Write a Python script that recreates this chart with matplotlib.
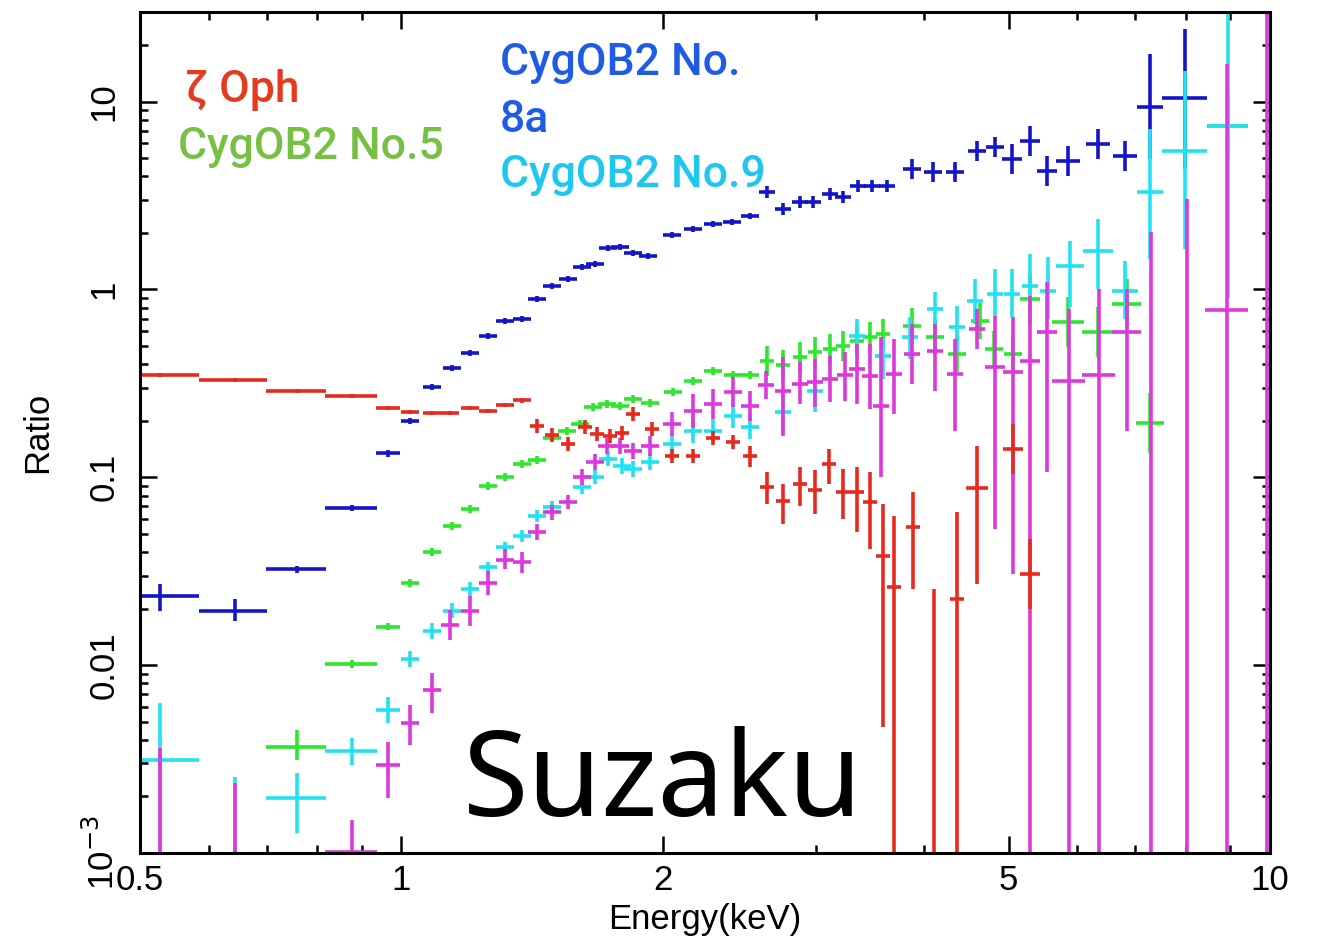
import matplotlib
matplotlib.use("Agg")
import matplotlib.pyplot as plt
import matplotlib.ticker as mticker

# Suzaku ratio spectra: energy (keV), half bin width, ratio, lower / upper bound

# CygOB2 No.8a (blue)
blue_e = [0.527, 0.643, 0.758, 0.877, 0.965, 1.023, 1.084, 1.143, 1.200, 1.258, 1.316, 1.377, 1.432, 1.491,
          1.555, 1.614, 1.671, 1.729, 1.785, 1.848, 1.922, 2.049, 2.166, 2.284, 2.402, 2.519, 2.635, 2.750,
          2.876, 2.977, 3.115, 3.225, 3.356, 3.482, 3.624, 3.872, 4.094, 4.340, 4.600, 4.825, 5.048, 5.295,
          5.539, 5.856, 6.342, 6.812, 7.278, 7.986]
blue_de = [0.057, 0.058, 0.060, 0.060, 0.031, 0.025, 0.026, 0.028, 0.029, 0.030, 0.032, 0.033, 0.034, 0.036,
           0.037, 0.039, 0.040, 0.042, 0.043, 0.044, 0.046, 0.049, 0.052, 0.055, 0.058, 0.061, 0.057, 0.059,
           0.062, 0.064, 0.067, 0.069, 0.072, 0.075, 0.078, 0.093, 0.099, 0.105, 0.111, 0.116, 0.136, 0.143,
           0.149, 0.19, 0.205, 0.22, 0.255, 0.48]
blue_r = [0.0232, 0.0195, 0.0323, 0.0684, 0.134, 0.199, 0.302, 0.381, 0.458, 0.565, 0.679, 0.697, 0.890, 1.044,
          1.138, 1.318, 1.368, 1.665, 1.685, 1.565, 1.509, 1.953, 2.102, 2.235, 2.291, 2.466, 3.311, 2.688,
          2.929, 2.929, 3.230, 3.113, 3.565, 3.565, 3.565, 4.392, 4.233, 4.233, 5.478, 5.754, 4.966, 6.194,
          4.285, 4.846, 5.970, 5.152, 9.404, 10.5]
blue_lo = [0.0193, 0.0171, 0.0308, 0.0659, 0.129, 0.192, 0.291, 0.367, 0.441, 0.545, 0.654, 0.672, 0.858, 1.006,
           1.097, 1.270, 1.319, 1.605, 1.624, 1.508, 1.454, 1.882, 2.026, 2.154, 2.208, 2.377, 3.08, 2.50,
           2.72, 2.72, 3.00, 2.89, 3.31, 3.31, 3.31, 3.88, 3.74, 3.74, 4.84, 5.09, 4.13, 5.15,
           3.56, 4.03, 4.97, 4.29, 4.97, 4.4]
blue_hi = [0.0269, 0.0224, 0.0339, 0.0710, 0.139, 0.206, 0.313, 0.395, 0.475, 0.586, 0.704, 0.723, 0.923, 1.083,
           1.181, 1.367, 1.419, 1.727, 1.748, 1.624, 1.566, 2.026, 2.181, 2.319, 2.377, 2.558, 3.56, 2.89,
           3.15, 3.15, 3.48, 3.35, 3.84, 3.84, 3.84, 4.97, 4.79, 4.79, 6.20, 6.51, 5.97, 7.45,
           5.15, 5.83, 7.18, 6.19, 18.0, 24.5]

# zeta Oph (red)
red_e = [0.527, 0.643, 0.758, 0.877, 0.965, 1.023, 1.084, 1.137, 1.200, 1.258, 1.316, 1.377, 1.432, 1.491,
         1.555, 1.627, 1.679, 1.738, 1.794, 1.848, 1.943, 2.049, 2.166, 2.284, 2.408, 2.519, 2.635, 2.750,
         2.876, 2.993, 3.106, 3.225, 3.346, 3.464, 3.584, 3.691, 3.882, 4.104, 4.362, 4.598, 5.058, 5.292]
red_de = [0.057, 0.058, 0.060, 0.060, 0.031, 0.025, 0.026, 0.027, 0.029, 0.030, 0.032, 0.033, 0.027, 0.028,
          0.029, 0.030, 0.031, 0.033, 0.034, 0.035, 0.036, 0.038, 0.041, 0.043, 0.045, 0.047, 0.049, 0.051,
          0.054, 0.056, 0.058, 0.060, 0.063, 0.065, 0.067, 0.069, 0.073, 0.077, 0.082, 0.136, 0.136, 0.142]
red_r = [0.350, 0.329, 0.2875, 0.270, 0.233, 0.222, 0.2195, 0.2195, 0.2333, 0.2249, 0.242, 0.2574, 0.187, 0.1675,
         0.150, 0.1848, 0.1696, 0.1654, 0.1717, 0.2168, 0.1803, 0.1294, 0.1294, 0.1614, 0.1537, 0.1294, 0.0885,
         0.0745, 0.0918, 0.0852, 0.1173, 0.0832, 0.0832, 0.0736, 0.0379, 0.0262, 0.0541, 0.0005, 0.0224, 0.0874,
         0.141, 0.0304]
red_lo = [0.340, 0.320, 0.280, 0.263, 0.227, 0.216, 0.214, 0.214, 0.227, 0.219, 0.236, 0.250, 0.172, 0.154,
          0.138, 0.170, 0.156, 0.152, 0.158, 0.199, 0.165, 0.119, 0.119, 0.148, 0.141, 0.114, 0.0718,
          0.0561, 0.070, 0.0635, 0.0918, 0.0597, 0.0509, 0.0413, 0.0047, 0.0001, 0.0253, 0.0001, 0.0001, 0.0269,
          0.1038, 0.0198]
red_hi = [0.360, 0.338, 0.295, 0.277, 0.239, 0.228, 0.225, 0.225, 0.240, 0.231, 0.249, 0.264, 0.204, 0.183,
          0.164, 0.201, 0.185, 0.180, 0.187, 0.236, 0.197, 0.141, 0.141, 0.176, 0.168, 0.146, 0.1063,
          0.0918, 0.1131, 0.109, 0.141, 0.1104, 0.1131, 0.1063, 0.0718, 0.0619, 0.0832, 0.0253, 0.065, 0.1463,
          0.1917, 0.0467]

# CygOB2 No.5 (green)
green_e = [0.758, 0.877, 0.965, 1.023, 1.084, 1.143, 1.200, 1.258, 1.316, 1.377, 1.432, 1.491, 1.551, 1.606,
           1.662, 1.724, 1.785, 1.848, 1.933, 2.054, 2.166, 2.284, 2.408, 2.519, 2.635, 2.750, 2.876, 2.993,
           3.113, 3.225, 3.346, 3.464, 3.584, 3.872, 4.114, 4.362, 4.634, 4.811, 5.058, 5.292, 5.856, 6.342,
           6.845, 7.278, 8.945]
green_de = [0.060, 0.060, 0.031, 0.025, 0.026, 0.028, 0.029, 0.030, 0.032, 0.033, 0.034, 0.036, 0.037, 0.039,
            0.040, 0.042, 0.043, 0.044, 0.047, 0.049, 0.052, 0.055, 0.058, 0.061, 0.049, 0.051, 0.054, 0.056,
            0.058, 0.060, 0.063, 0.065, 0.067, 0.093, 0.099, 0.105, 0.112, 0.116, 0.122, 0.142, 0.25, 0.27,
            0.26, 0.275, 0.49]
green_r = [0.00367, 0.0102, 0.01604, 0.0275, 0.0398, 0.0548, 0.0675, 0.0895, 0.100, 0.1173, 0.1232, 0.1614,
           0.1759, 0.1917, 0.2362, 0.245, 0.2391, 0.2606, 0.248, 0.284, 0.325, 0.3675, 0.350, 0.350, 0.4157,
           0.3958, 0.4365, 0.464, 0.4817, 0.4995, 0.5312, 0.558, 0.579, 0.6388, 0.558, 0.4529, 0.679, 0.4817,
           0.4529, 0.890, 0.671, 0.5934, 0.837, 0.194, 7.45]
green_lo = [0.00313, 0.0097, 0.0153, 0.0262, 0.0379, 0.0522, 0.0643, 0.0852, 0.0952, 0.1117, 0.1173, 0.1537,
            0.1675, 0.1826, 0.225, 0.233, 0.228, 0.248, 0.236, 0.270, 0.310, 0.350, 0.333, 0.333, 0.346,
            0.329, 0.363, 0.386, 0.401, 0.416, 0.442, 0.464, 0.482, 0.512, 0.447, 0.363, 0.544, 0.386,
            0.363, 0.655, 0.494, 0.437, 0.616, 0.134, 5.0]
green_hi = [0.00453, 0.0107, 0.0168, 0.0289, 0.0418, 0.0575, 0.0709, 0.094, 0.105, 0.1232, 0.1294, 0.1695,
            0.1847, 0.2013, 0.248, 0.257, 0.251, 0.274, 0.260, 0.298, 0.341, 0.386, 0.368, 0.368, 0.500,
            0.476, 0.525, 0.558, 0.579, 0.600, 0.638, 0.671, 0.696, 0.797, 0.696, 0.565, 0.847, 0.601,
            0.565, 1.21, 0.912, 0.806, 1.14, 0.281, 11.1]

# CygOB2 No.9 (cyan)
cyan_e = [0.527, 0.643, 0.758, 0.877, 0.965, 1.023, 1.084, 1.143, 1.200, 1.258, 1.316, 1.377, 1.432, 1.491,
          1.614, 1.671, 1.729, 1.794, 1.848, 1.933, 2.049, 2.166, 2.284, 2.408, 2.519, 2.750, 2.993, 3.346,
          3.584, 3.850, 4.114, 4.362, 4.574, 4.825, 5.048, 5.292, 5.550, 5.885, 6.342, 6.812, 7.278, 7.986, 8.945]
cyan_de = [0.057, 0.058, 0.060, 0.060, 0.031, 0.025, 0.026, 0.028, 0.029, 0.030, 0.032, 0.033, 0.034, 0.036,
           0.039, 0.040, 0.042, 0.043, 0.044, 0.047, 0.049, 0.052, 0.055, 0.058, 0.061, 0.059, 0.064, 0.072,
           0.077, 0.083, 0.088, 0.094, 0.098, 0.104, 0.109, 0.114, 0.119, 0.22, 0.25, 0.24, 0.255, 0.48, 0.47]
cyan_r = [0.00313, 0.0005, 0.001965, 0.0035, 0.00579, 0.01083, 0.01528, 0.01953, 0.0253, 0.0331, 0.0423, 0.0484,
          0.0619, 0.0692, 0.0885, 0.100, 0.1247, 0.1145, 0.1104, 0.1202, 0.150, 0.1759, 0.1759, 0.2115, 0.1848,
          0.222, 0.2875, 0.565, 0.4417, 0.558, 0.787, 0.631, 0.8684, 0.946, 0.946, 1.044, 0.9817, 1.335, 1.604,
          0.9817, 3.311, 5.478, 7.45]
cyan_lo = [0.0001, 0.0001, 0.00128, 0.00295, 0.00493, 0.00982, 0.01385, 0.0179, 0.0232, 0.0307, 0.0393, 0.0450,
           0.0575, 0.0643, 0.0812, 0.0917, 0.1144, 0.1038, 0.1001, 0.109, 0.1326, 0.1518, 0.1518, 0.1825, 0.1595,
           0.1696, 0.222, 0.4529, 0.3333, 0.4259, 0.579, 0.47, 0.6546, 0.7225, 0.7135, 0.74, 0.6964, 0.8065,
           1.006, 0.6964, 1.454, 1.644, 0.9]
cyan_hi = [0.00631, 0.00254, 0.00267, 0.0041, 0.00679, 0.01195, 0.01685, 0.0213, 0.0276, 0.0356, 0.0455, 0.0521,
           0.0666, 0.0745, 0.0965, 0.109, 0.136, 0.1263, 0.1218, 0.1326, 0.1697, 0.2039, 0.2039, 0.2451, 0.2142,
           0.284, 0.3542, 0.6964, 0.5445, 0.7135, 0.97, 0.8166, 1.138, 1.286, 1.286, 1.546, 1.491, 1.814,
           2.377, 1.419, 7.178, 14.63, 40]

# fifth source (magenta)
mag_e = [0.527, 0.643, 0.877, 0.965, 1.023, 1.084, 1.137, 1.200, 1.258, 1.316, 1.377, 1.432, 1.491, 1.555,
         1.614, 1.671, 1.724, 1.785, 1.848, 1.933, 2.049, 2.166, 2.284, 2.408, 2.519, 2.629, 2.750, 2.876,
         2.993, 3.115, 3.242, 3.346, 3.464, 3.565, 3.691, 3.872, 4.114, 4.340, 4.600, 4.825, 5.058, 5.292,
         5.539, 5.869, 6.357, 6.845, 7.300, 8.025, 8.925, 9.93]
mag_de = [0.057, 0.058, 0.060, 0.031, 0.025, 0.026, 0.027, 0.029, 0.030, 0.032, 0.033, 0.034, 0.036, 0.037,
          0.039, 0.040, 0.042, 0.043, 0.044, 0.047, 0.049, 0.052, 0.055, 0.058, 0.061, 0.057, 0.059, 0.062,
          0.064, 0.067, 0.069, 0.072, 0.075, 0.077, 0.079, 0.083, 0.088, 0.093, 0.099, 0.13, 0.136, 0.142,
          0.149, 0.255, 0.275, 0.26, 0.30, 0.48, 0.51, 0.15]
mag_r = [0.0005, 0.0005, 0.00101, 0.00295, 0.00493, 0.0074, 0.01644, 0.0193, 0.0275, 0.0365, 0.0352, 0.0509,
         0.065, 0.0736, 0.100, 0.1202, 0.1463, 0.1463, 0.1376, 0.1463, 0.1917, 0.2249, 0.245, 0.284, 0.2391,
         0.3096, 0.2875, 0.3133, 0.321, 0.3333, 0.350, 0.3767, 0.3456, 0.2391, 0.3542, 0.4529, 0.470, 0.3542,
         0.6155, 0.386, 0.3631, 0.4157, 0.5934, 0.325, 0.350, 0.5934, 0.0005, 0.0005, 0.7775, 0.0005]
mag_lo = [0.0001, 0.0001, 0.0001, 0.001965, 0.00377, 0.00558, 0.01368, 0.0161, 0.0237, 0.0323, 0.0311, 0.0461,
          0.0596, 0.0675, 0.0907, 0.109, 0.1326, 0.1326, 0.1248, 0.1294, 0.1654, 0.183, 0.204, 0.236, 0.199,
          0.2606, 0.1654, 0.245, 0.2362, 0.2512, 0.2542, 0.245, 0.2305, 0.100, 0.2168, 0.3133, 0.2875, 0.1759,
          0.48, 0.0528, 0.0304, 0.0001, 0.1063, 0.0001, 0.0001, 0.1759, 0.0001, 0.0001, 0.0001, 0.0001]
mag_hi = [0.00363, 0.00236, 0.0015, 0.00391, 0.00616, 0.00912, 0.01976, 0.0232, 0.0319, 0.0413, 0.0398, 0.0561,
          0.0709, 0.0802, 0.1103, 0.1326, 0.1614, 0.1614, 0.1518, 0.1655, 0.2222, 0.276, 0.294, 0.341, 0.287,
          0.3675, 0.4365, 0.4105, 0.4259, 0.4417, 0.464, 0.512, 0.512, 0.558, 0.5445, 0.6546, 0.6546, 0.5445,
          0.79, 0.7225, 0.7135, 0.923, 1.096, 0.787, 1.006, 1.006, 2.026, 3.039, 15.95, 50]

x_ticks = [0.5, 1, 2, 5, 10]
x_labels = ["0.5", "1", "2", "5", "10"]
y_ticks = [1e-3, 1e-2, 1e-1, 1, 10]
y_labels = ["10$^{-3}$", "0.01", "0.1", "1", "10"]

series = [
    (green_e, green_de, green_r, green_lo, green_hi, "#2ee62e"),
    (blue_e, blue_de, blue_r, blue_lo, blue_hi, "#1414c8"),
    (cyan_e, cyan_de, cyan_r, cyan_lo, cyan_hi, "#22e2f2"),
    (mag_e, mag_de, mag_r, mag_lo, mag_hi, "#dc38dc"),
    (red_e, red_de, red_r, red_lo, red_hi, "#e62a1e"),
]

fig = plt.figure(figsize=(13.17, 9.47), dpi=100, facecolor="white")
ax = fig.add_axes([0.1063, 0.0993, 0.858, 0.888])

for e, de, r, lo, hi, col in series:
    yerr = [[v - l for v, l in zip(r, lo)], [h - v for v, h in zip(r, hi)]]
    ax.errorbar(e, r, xerr=de, yerr=yerr, fmt="none", ecolor=col, elinewidth=2.6, capsize=0)

ax.set_xscale("log")
ax.set_yscale("log")
ax.set_xlim(0.5, 10)
ax.set_ylim(1e-3, 30)

ax.xaxis.set_major_locator(mticker.FixedLocator(x_ticks))
ax.xaxis.set_major_formatter(mticker.FixedFormatter(x_labels))
ax.xaxis.set_minor_locator(mticker.LogLocator(base=10, subs=(2, 3, 4, 5, 6, 7, 8, 9), numticks=20))
ax.xaxis.set_minor_formatter(mticker.NullFormatter())
ax.yaxis.set_major_locator(mticker.FixedLocator(y_ticks))
ax.yaxis.set_major_formatter(mticker.FixedFormatter(y_labels))
ax.yaxis.set_minor_locator(mticker.LogLocator(base=10, subs=(2, 3, 4, 5, 6, 7, 8, 9), numticks=20))
ax.yaxis.set_minor_formatter(mticker.NullFormatter())

tick_font = "Liberation Sans"
ax.tick_params(which="both", direction="in", top=True, right=True, width=1.8, color="black")
ax.tick_params(which="major", length=12)
ax.tick_params(which="minor", length=6)
ax.tick_params(axis="x", which="major", pad=8, labelsize=25)
ax.tick_params(axis="y", which="major", pad=14, labelsize=25, labelrotation=90)
for lbl in ax.get_xticklabels() + ax.get_yticklabels():
    lbl.set_fontfamily(tick_font)
for lbl in ax.get_yticklabels():
    lbl.set_verticalalignment("center")
for sp in ax.spines.values():
    sp.set_linewidth(2.2)

ax.set_xlabel("Energy(keV)", fontsize=25, family=tick_font, labelpad=4)
ax.set_ylabel("Ratio", fontsize=25, family=tick_font, labelpad=22)

# source names
lab_font = ["Roboto", "DejaVu Sans"]
lab_kw = dict(fontsize=32, family=lab_font, weight="medium", va="center")
fig.text(185 / 1317, 1 - 90 / 947, "ζ Oph", color="#e63a1e", **lab_kw)
fig.text(178 / 1317, 1 - 147 / 947, "CygOB2 No.5", color="#76c043", **lab_kw)
fig.text(500 / 1317, 1 - 63 / 947, "CygOB2 No.", color="#1f5ce6", **lab_kw)
fig.text(500 / 1317, 1 - 120 / 947, "8a", color="#1f5ce6", **lab_kw)
fig.text(500 / 1317, 1 - 175 / 947, "CygOB2 No.9", color="#1ec6f0", **lab_kw)
fig.text(463 / 1317, 1 - 785 / 947, "Suzaku", color="black", fontsize=86, family=["Noto Sans", "DejaVu Sans"],
         va="center")

fig.savefig("out.png", dpi=100, facecolor="white")
